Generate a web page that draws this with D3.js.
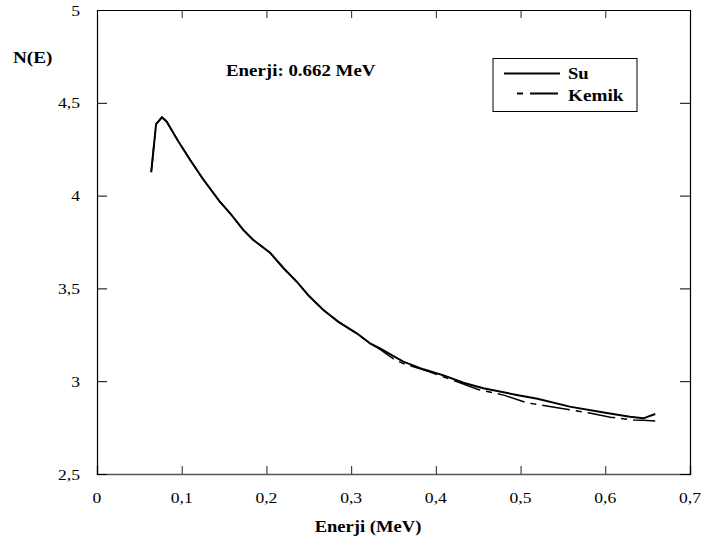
<!DOCTYPE html>
<html><head><meta charset="utf-8">
<script src="https://cdn.jsdelivr.net/npm/d3@7"></script>
<style>body{margin:0;background:#fff}svg{display:block}svg text{font-family:"Liberation Serif","Tinos","Times New Roman",Times,serif !important}</style>
</head><body>
<svg id="c" width="703" height="547"></svg>
<script>
const xTicks = [0,0.1,0.2,0.3,0.4,0.5,0.6,0.7];
const yTicks = [2.5,3,3.5,4,4.5,5];
const suX = [0.064,0.0697,0.0712,0.0767,0.0823,0.095,0.11,0.125,0.145,0.157,0.1727,0.1845,0.2043,0.22,0.2358,0.25,0.2672,0.285,0.3066,0.3223,0.3341,0.35,0.3616,0.3853,0.41,0.4325,0.456,0.4955,0.52,0.558,0.6,0.629,0.645,0.659];
const suY = [4.126,4.384,4.393,4.422,4.398,4.30,4.192,4.09,3.967,3.905,3.815,3.761,3.692,3.61,3.536,3.46,3.384,3.32,3.258,3.204,3.177,3.135,3.105,3.064,3.03,2.992,2.962,2.926,2.905,2.863,2.83,2.809,2.800,2.823];
const kemikX = [0.064,0.0697,0.0712,0.0767,0.0823,0.095,0.11,0.125,0.145,0.157,0.1727,0.1845,0.2043,0.22,0.2358,0.25,0.2672,0.285,0.3066,0.3223,0.3341,0.35,0.3616,0.39,0.42,0.45,0.48,0.507,0.547,0.58,0.606,0.633,0.645,0.659];
const kemikY = [4.126,4.384,4.393,4.422,4.398,4.30,4.192,4.09,3.967,3.905,3.815,3.761,3.692,3.61,3.536,3.46,3.384,3.32,3.258,3.204,3.172,3.12,3.095,3.055,3.005,2.955,2.925,2.884,2.854,2.83,2.806,2.791,2.79,2.785];

const svg = d3.select("#c");
const L=97,R=690,T=10,B=474;
const x = d3.scaleLinear().domain([0,0.7]).range([L,R]);
const y = d3.scaleLinear().domain([2.5,5]).range([B,T]);

// horizontal stretch of text, as in the reference
function stretch(sel, k){
  sel.each(function(){
    const w = this.getComputedTextLength();
    d3.select(this).attr("textLength", w*k).attr("lengthAdjust","spacingAndGlyphs");
  });
}

// axes with inward ticks
const fmt = d => d3.format("")(d).replace(".",",");
svg.append("g").attr("transform",`translate(0,${B})`)
  .call(d3.axisTop(x).tickValues(xTicks).tickSize(8).tickFormat(""))
  .call(g=>g.select(".domain").attr("stroke","#555").attr("stroke-width",1.5))
  .call(g=>g.selectAll(".tick line").attr("stroke","#222"));
svg.append("g").attr("transform",`translate(0,${T})`)
  .call(d3.axisBottom(x).tickValues(xTicks).tickSize(8).tickFormat(""))
  .call(g=>g.selectAll(".tick line").attr("stroke","#222"));
svg.append("g").attr("transform",`translate(${L},0)`)
  .call(d3.axisRight(y).tickValues(yTicks).tickSize(10).tickFormat(""))
  .call(g=>g.select(".domain").attr("stroke-width",1.2));
svg.append("g").attr("transform",`translate(${R},0)`)
  .call(d3.axisLeft(y).tickValues(yTicks).tickSize(10).tickFormat(""))
  .call(g=>g.select(".domain").attr("stroke-width",1.2));

// tick labels
svg.append("g").selectAll("text").data(xTicks).join("text")
  .attr("x",d=>x(d)).attr("y",503).attr("text-anchor","middle")
  .attr("font-size",15).text(fmt).call(stretch,1.17);
svg.append("g").selectAll("text").data(yTicks).join("text")
  .attr("x",80).attr("y",d=>y(d)+5.5).attr("text-anchor","end")
  .attr("font-size",15).text(fmt).call(stretch,1.17);

// titles
svg.append("text").attr("x",368).attr("y",532).attr("text-anchor","middle")
  .attr("font-size",16).attr("font-weight","bold").text("Enerji (MeV)").call(stretch,1.16);
svg.append("text").attr("x",13).attr("y",63)
  .attr("font-size",16).attr("font-weight","bold").text("N(E)").call(stretch,1.2);
svg.append("text").attr("x",226).attr("y",76)
  .attr("font-size",16).attr("font-weight","bold").text("Enerji: 0.662 MeV").call(stretch,1.18);

// lines
const line = d3.line().x(d=>x(d[0])).y(d=>y(d[1]));
const su = suX.map((v,i)=>[v,suY[i]]);
const ke = kemikX.map((v,i)=>[v,kemikY[i]]);
svg.append("path").datum(ke).attr("d",line).attr("fill","none")
  .attr("stroke","#000").attr("stroke-width",1.5).attr("stroke-dasharray","28,6,6,6");
svg.append("path").datum(su).attr("d",line).attr("fill","none")
  .attr("stroke","#000").attr("stroke-width",2);

// legend
const lg = svg.append("g");
lg.append("rect").attr("x",493).attr("y",58.5).attr("width",144).attr("height",53)
  .attr("fill","#fff").attr("stroke","#000").attr("stroke-width",1);
lg.append("line").attr("x1",504).attr("x2",560).attr("y1",73.5).attr("y2",73.5)
  .attr("stroke","#000").attr("stroke-width",2);
lg.append("line").attr("x1",517).attr("x2",558).attr("y1",93.5).attr("y2",93.5)
  .attr("stroke","#000").attr("stroke-width",2).attr("stroke-dasharray","6,7,28");
lg.append("text").attr("x",568).attr("y",79).attr("font-size",16).attr("font-weight","bold").text("Su").call(stretch,1.16);
lg.append("text").attr("x",568).attr("y",101).attr("font-size",16).attr("font-weight","bold").text("Kemik").call(stretch,1.2);
</script>
</body></html>
